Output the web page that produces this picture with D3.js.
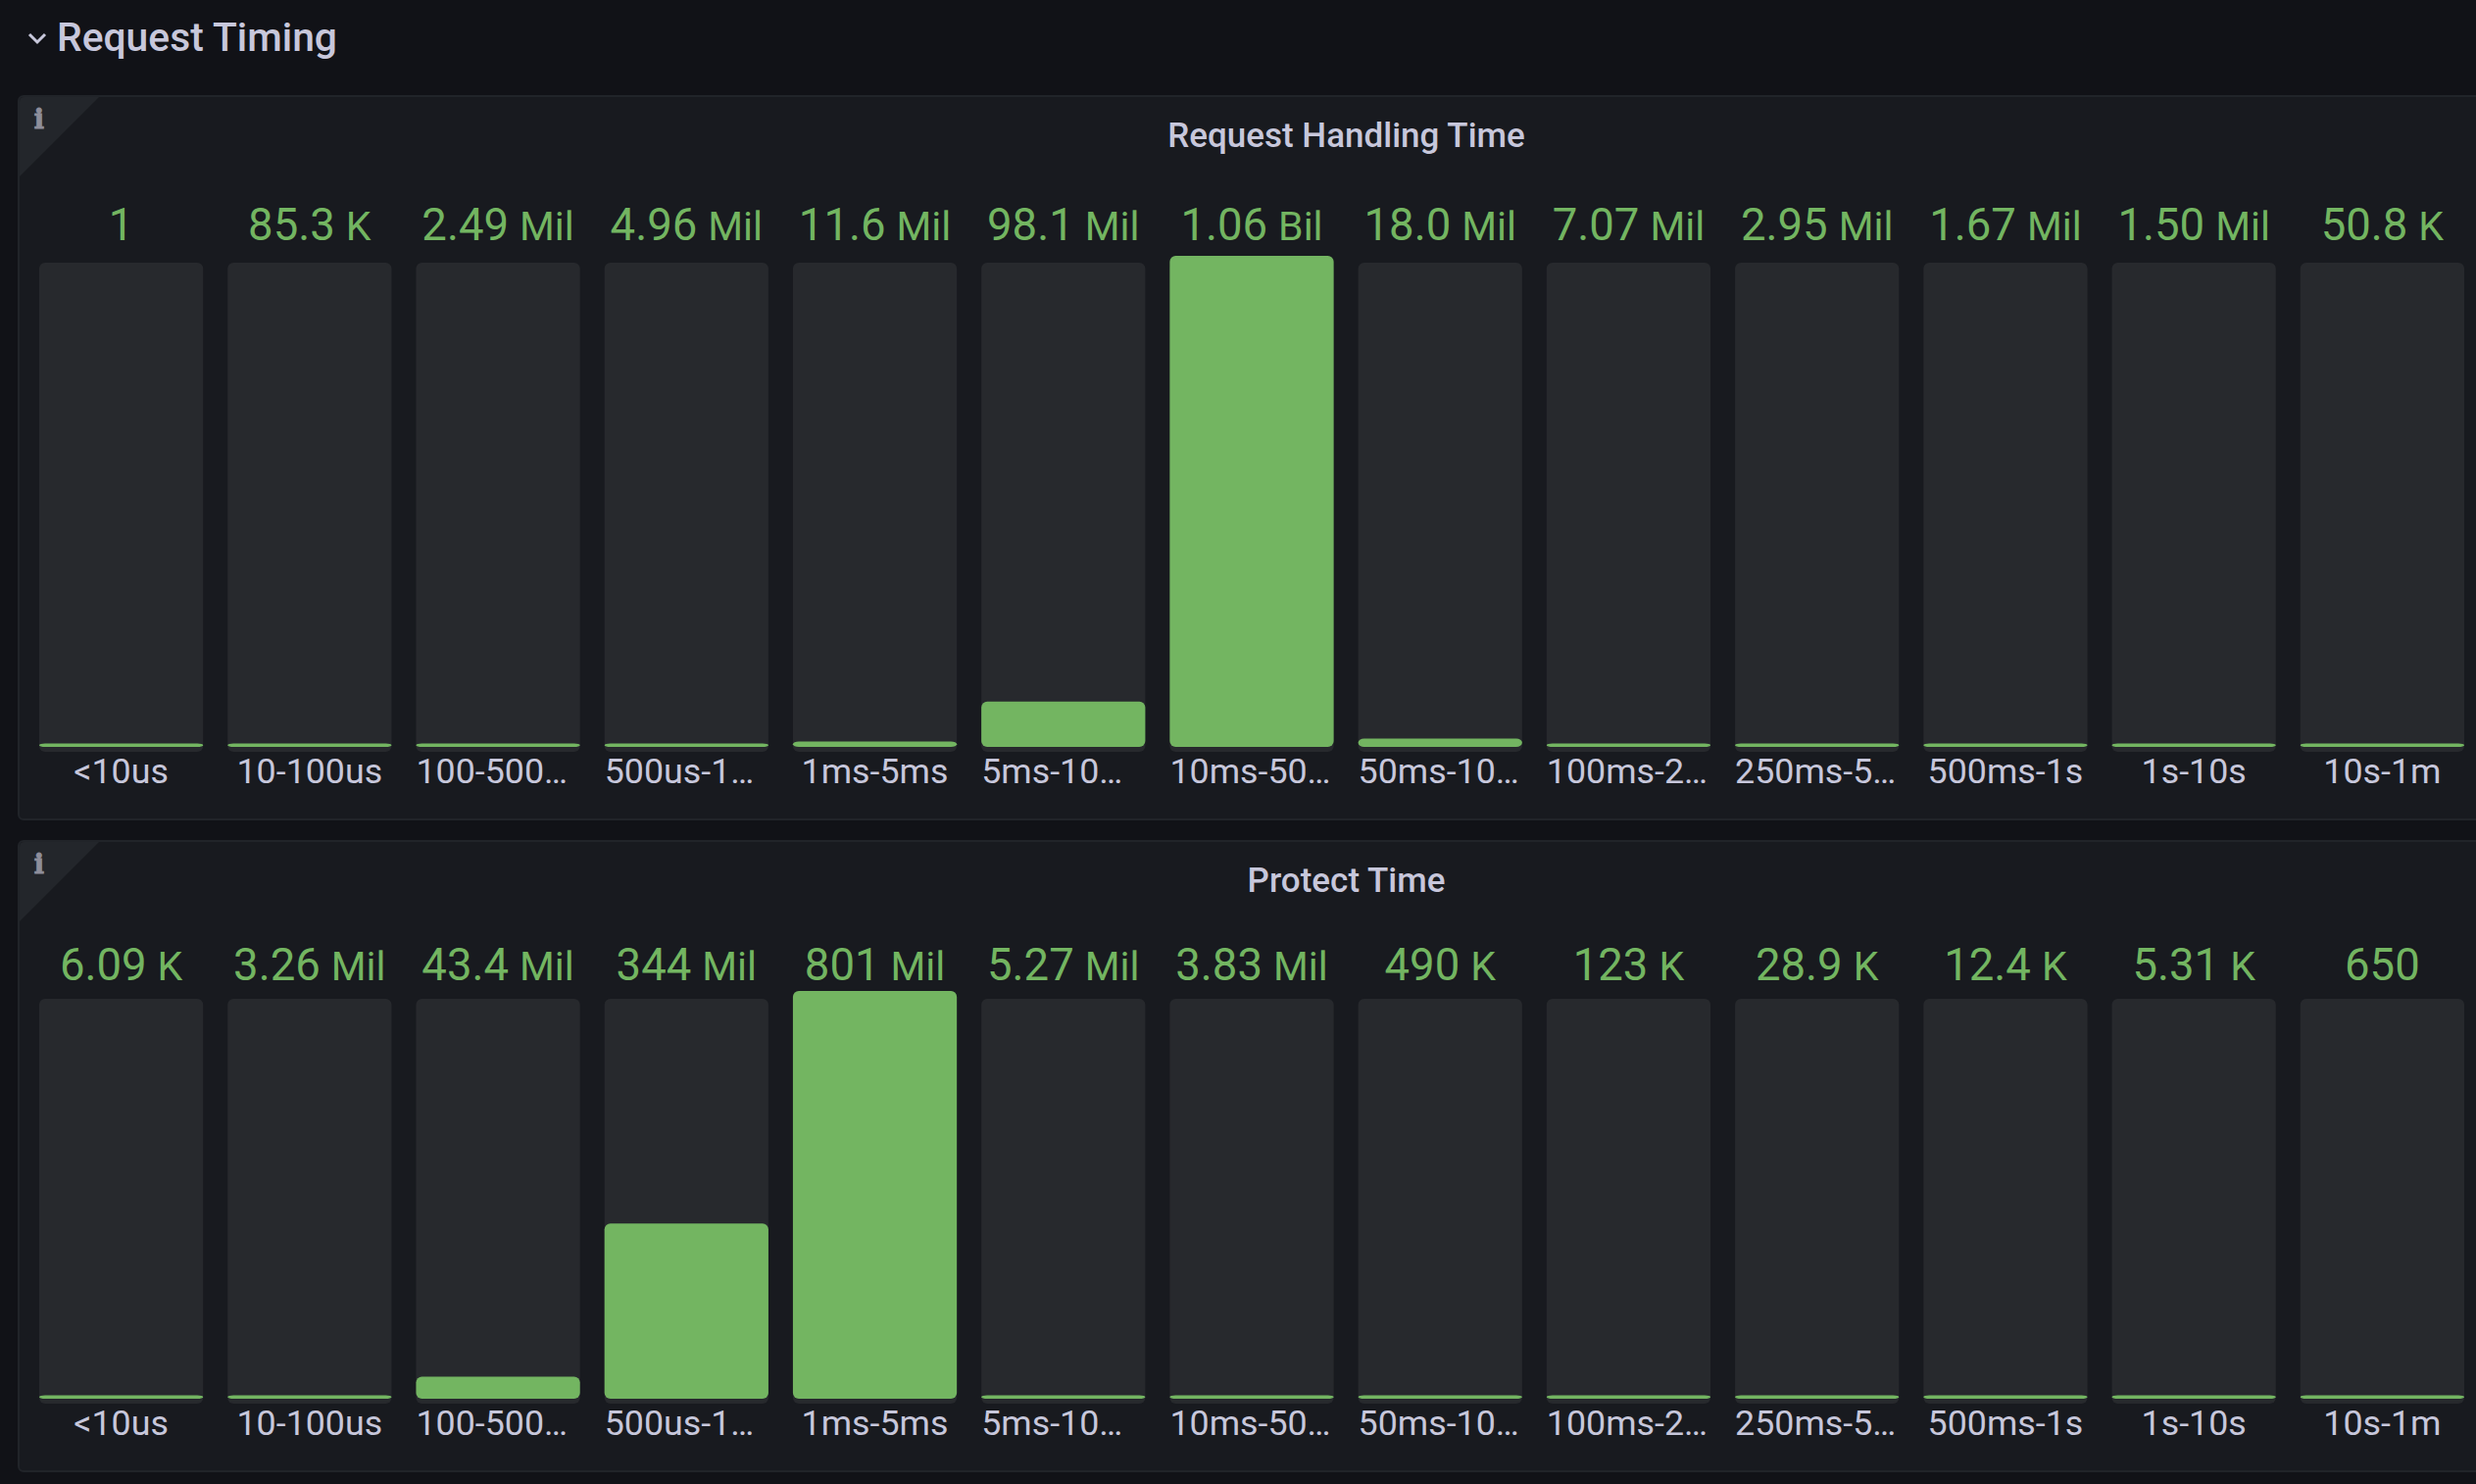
<!DOCTYPE html>
<html><head><meta charset="utf-8">
<script src="https://cdn.jsdelivr.net/npm/d3@7/dist/d3.min.js"></script>
<style>
html,body{margin:0;padding:0;background:#111217;overflow:hidden}
svg{display:block}
text{font-family:Roboto,sans-serif}
</style></head><body>
<svg id="c" width="2526" height="1514"></svg>
<script>
const sectionTitle = "Request Timing";
const categories = ["<10us","10-100us","100-500…","500us-1…","1ms-5ms","5ms-10…","10ms-50…","50ms-10…","100ms-2…","250ms-5…","500ms-1s","1s-10s","10s-1m"];
const handlingTitle = "Request Handling Time";
const handlingValues = [1,85300,2490000,4960000,11600000,98100000,1060000000,18000000,7070000,2950000,1670000,1500000,50800];
const protectTitle = "Protect Time";
const protectValues = [6090,3260000,43400000,344000000,801000000,5270000,3830000,490000,123000,28900,12400,5310,650];

const C = {bg:"#111217",panel:"#181a1f",border:"#212429",corner:"#23262b",track:"#27292d",green:"#73b561",text:"#c7c7db",title:"#c7c7db",icon:"#8e8e9b"};
const svg = d3.select("#c");
const W = 2526;
svg.append("rect").attr("width",W).attr("height",1514).attr("fill",C.bg);

const x = d3.scaleBand().domain(categories).range([40,2514]).paddingInner(0.13);

function splitVal(v){
  const f = d3.format(".3r");
  if(v>=1e9) return [f(v/1e9),"Bil"];
  if(v>=1e6) return [f(v/1e6),"Mil"];
  if(v>=1e3) return [f(v/1e3),"K"];
  return [String(v),""];
}

function panel(o){
  const g = svg.append("g");
  g.append("rect").attr("x",o.left).attr("y",o.top).attr("width",W+40).attr("height",o.bottom-o.top)
    .attr("rx",5).attr("fill",C.panel).attr("stroke",C.border).attr("stroke-width",2);
  g.append("path").attr("d",`M${o.left+1},${o.top+82} L${o.left+1},${o.top+6} Q${o.left+1},${o.top+1} ${o.left+6},${o.top+1} L${o.left+82},${o.top+1} Z`).attr("fill",C.corner);
  g.append("text").attr("x",40).attr("y",o.top+33).attr("text-anchor","middle")
    .style("font-family","DejaVu Serif").attr("font-weight",700).attr("font-size",27)
    .attr("stroke",C.icon).attr("stroke-width",1).attr("fill",C.icon).text("i");
  g.append("text").attr("x",1373.5).attr("y",o.titleY).attr("text-anchor","middle")
    .attr("font-size",35).attr("font-weight",500).attr("fill",C.title).text(o.title);

  const y = d3.scaleLinear().domain([0,d3.max(o.values)]).range([o.fillBottom,o.fillTop]);
  const bars = g.selectAll("g.b").data(o.values.map((v,i)=>({v,c:categories[i]}))).join("g").attr("class","b");
  bars.append("rect").attr("x",d=>x(d.c)).attr("y",o.trackTop).attr("width",x.bandwidth()).attr("height",o.trackBottom-o.trackTop)
    .attr("rx",6).attr("fill",C.track);
  bars.append("rect").attr("x",d=>x(d.c)).attr("width",x.bandwidth())
    .attr("y",d=>Math.min(y(d.v),o.fillBottom-3.5)).attr("height",d=>Math.max(o.fillBottom-y(d.v),3.5))
    .attr("rx",6).attr("fill",C.green);
  const t = bars.append("text").attr("x",d=>x(d.c)+x.bandwidth()/2).attr("y",o.valueY).attr("text-anchor","middle").attr("fill",C.green);
  t.append("tspan").attr("font-size",45.5).text(d=>splitVal(d.v)[0]);
  t.filter(d=>splitVal(d.v)[1]).append("tspan").attr("font-size",41).attr("dx",11).text(d=>splitVal(d.v)[1]);

  const ax = g.append("g").attr("transform",`translate(0,${o.labelY})`)
    .call(d3.axisBottom(x).tickSize(0).tickPadding(0));
  ax.select(".domain").remove();
  ax.selectAll("text").attr("y",0).attr("dy",0).attr("font-size",35.8).attr("fill",C.text).style("font-family","Roboto")
    .each(function(d){
      if(d.endsWith("…")) d3.select(this).attr("text-anchor","start").attr("x",-x.bandwidth()/2);
    });
}

// section header
svg.append("path").attr("d","M30,35 L38,43 L46,35").attr("fill","none").attr("stroke",C.title).attr("stroke-width",3);
svg.append("text").attr("x",58).attr("y",52).attr("font-size",40.8).attr("font-weight",500).attr("fill",C.title).text(sectionTitle);

panel({title:handlingTitle,values:handlingValues,left:19,top:98,bottom:836,titleY:150,valueY:245,fillTop:261,fillBottom:762,trackTop:268,trackBottom:767,labelY:798.5});
panel({title:protectTitle,values:protectValues,left:19,top:858,bottom:1501,titleY:910,valueY:1000,fillTop:1011,fillBottom:1427,trackTop:1019,trackBottom:1432,labelY:1464});
</script></body></html>
